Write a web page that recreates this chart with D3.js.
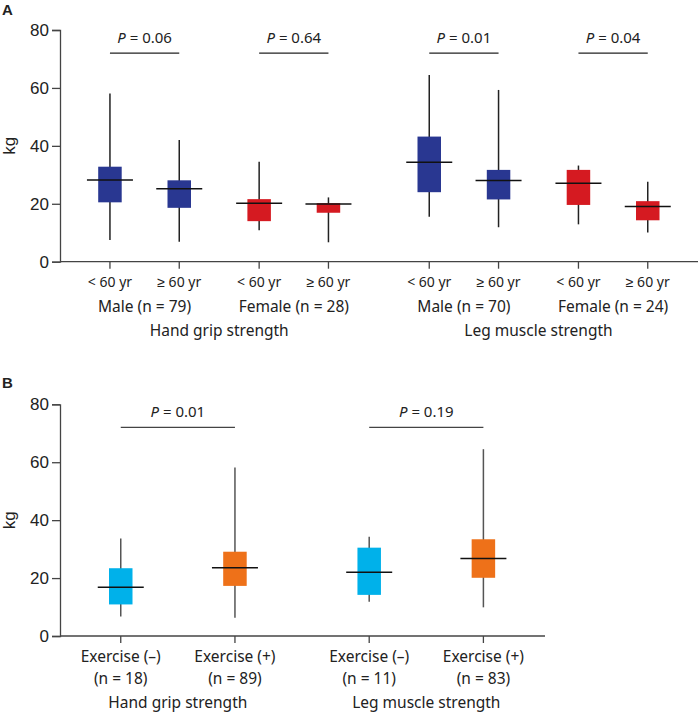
<!DOCTYPE html>
<html><head><meta charset="utf-8">
<script src="https://cdn.jsdelivr.net/npm/d3@7"></script>
<style>
html,body{margin:0;padding:0;background:#fff;}
text{font-family:"Noto Sans",sans-serif;fill:#222;}
</style></head>
<body>
<svg id="chart" width="700" height="713"></svg>
<script>
// ---------- DATA ----------
// Panel A
const measuresA = ["Hand grip strength", "Leg muscle strength"];
const sexesA = ["Male", "Female"];
const agesA = ["< 60 yr", "≥ 60 yr"];
const sexLabelsA = {
  "Hand grip strength": ["Male (n = 79)", "Female (n = 28)"],
  "Leg muscle strength": ["Male (n = 70)", "Female (n = 24)"]
};
// [measure, sex, age, whiskerLow, q1, median, q3, whiskerHigh]
const boxesA = [
  ["Hand grip strength", "Male", "< 60 yr", 7.5, 20.5, 28.2, 32.8, 58.1],
  ["Hand grip strength", "Male", "≥ 60 yr", 6.9, 18.6, 25.2, 28.1, 42.0],
  ["Hand grip strength", "Female", "< 60 yr", 10.9, 14.0, 20.2, 21.6, 34.5],
  ["Hand grip strength", "Female", "≥ 60 yr", 6.7, 16.9, 19.9, 20.2, 22.2],
  ["Leg muscle strength", "Male", "< 60 yr", 15.5, 24.0, 34.3, 43.2, 64.5],
  ["Leg muscle strength", "Male", "≥ 60 yr", 11.9, 21.5, 28.0, 31.7, 59.3],
  ["Leg muscle strength", "Female", "< 60 yr", 12.9, 19.6, 27.1, 31.7, 33.2],
  ["Leg muscle strength", "Female", "≥ 60 yr", 10.1, 14.3, 19.1, 20.9, 27.6]
];
// [measure, sex, p-value text]
const pValuesA = [
  ["Hand grip strength", "Male", "0.06"],
  ["Hand grip strength", "Female", "0.64"],
  ["Leg muscle strength", "Male", "0.01"],
  ["Leg muscle strength", "Female", "0.04"]
];
// Panel B
const measuresB = ["Hand grip strength", "Leg muscle strength"];
const exerciseB = ["Exercise (–)", "Exercise (+)"];
const nLabelsB = {
  "Hand grip strength": ["(n = 18)", "(n = 89)"],
  "Leg muscle strength": ["(n = 11)", "(n = 83)"]
};
const boxesB = [
  ["Hand grip strength", "Exercise (–)", 6.7, 10.9, 16.8, 23.4, 33.7],
  ["Hand grip strength", "Exercise (+)", 6.3, 17.3, 23.6, 29.1, 58.2],
  ["Leg muscle strength", "Exercise (–)", 11.8, 14.2, 22.0, 30.5, 34.3],
  ["Leg muscle strength", "Exercise (+)", 9.9, 20.1, 26.8, 33.4, 64.5]
];
const pValuesB = [
  ["Hand grip strength", "0.01"],
  ["Leg muscle strength", "0.19"]
];
const yTicks = [0, 20, 40, 60, 80];
const bracketLevel = 72;

// ---------- COLORS ----------
const colA = {Male: "#293791", Female: "#d51a21"};
const colB = {"Exercise (–)": "#00b1ea", "Exercise (+)": "#ee7119"};

const svg = d3.select("#chart");
const boxW = 23.5, medW = 46;

function yAxis(g, y, x0) {
  const ax = d3.axisLeft(y).tickValues(yTicks).tickSize(8).tickPadding(3);
  const a = g.append("g").attr("transform", `translate(${x0},0)`).call(ax);
  a.select(".domain").attr("stroke", "#444").attr("stroke-width", 1.3);
  a.selectAll(".tick line").attr("stroke", "#444").attr("stroke-width", 1.3);
  a.selectAll(".tick text").style("font-family", '"Liberation Sans",Arial,sans-serif').style("font-size", "17px").attr("fill", "#222");
}

function drawBox(g, x, y, d, color, whiskerColor) {
  const [lo, q1, med, q3, hi] = d;
  g.append("line").attr("x1", x).attr("x2", x).attr("y1", y(lo)).attr("y2", y(hi))
    .attr("stroke", whiskerColor).attr("stroke-width", 1.5);
  g.append("rect").attr("x", x - boxW / 2).attr("width", boxW)
    .attr("y", y(q3)).attr("height", y(q1) - y(q3)).attr("fill", color);
  g.append("line").attr("x1", x - medW / 2).attr("x2", x + medW / 2)
    .attr("y1", y(med)).attr("y2", y(med)).attr("stroke", "#111").attr("stroke-width", 1.5);
}

function pText(g, x, yb, p) {
  const t = g.append("text").attr("x", x).attr("y", yb).attr("text-anchor", "middle")
    .style("font-size", "15px").attr("fill", "#333");
  t.append("tspan").style("font-style", "italic").text("P");
  t.append("tspan").text(" = " + p);
}

function kgLabel(g, cy) {
  g.append("text").attr("x", 10).attr("y", cy).attr("transform", `rotate(-90,10,${cy})`)
    .attr("text-anchor", "middle").attr("dominant-baseline", "central")
    .style("font-family", '"Liberation Sans",Arial,sans-serif').style("font-size", "17px").text("kg");
}

// ---------- PANEL A ----------
{
  const g = svg.append("g");
  const y = d3.scaleLinear().domain([0, 80]).range([261.7, 30]);
  const outer = d3.scalePoint().domain(measuresA).range([219.2, 538.5]);
  const mid = d3.scalePoint().domain(sexesA).range([-74.6, 74.6]);
  const inner = d3.scalePoint().domain(agesA).range([-34.65, 34.65]);
  const xPos = (m, s, a) => outer(m) + mid(s) + inner(a);

  g.append("line").attr("x1", 60).attr("x2", 698).attr("y1", y(0)).attr("y2", y(0))
    .attr("stroke", "#444").attr("stroke-width", 1.3);
  yAxis(g, y, 60);

  boxesA.forEach(b => {
    const x = xPos(b[0], b[1], b[2]);
    g.append("line").attr("x1", x).attr("x2", x).attr("y1", y(0)).attr("y2", y(0) + 7)
      .attr("stroke", "#444").attr("stroke-width", 1.3);
    drawBox(g, x, y, b.slice(3), colA[b[1]], "#222");
    g.append("text").attr("x", x).attr("y", 287).attr("text-anchor", "middle")
      .style("font-size", "14px").text(b[2]);
  });
  measuresA.forEach(m => {
    sexesA.forEach((s, i) => {
      g.append("text").attr("x", outer(m) + mid(s)).attr("y", 312).attr("text-anchor", "middle")
        .style("font-size", "15.5px").text(sexLabelsA[m][i]);
    });
    g.append("text").attr("x", outer(m)).attr("y", 336).attr("text-anchor", "middle")
      .style("font-size", "15.5px").text(m);
  });
  pValuesA.forEach(p => {
    const xa = xPos(p[0], p[1], agesA[0]), xb = xPos(p[0], p[1], agesA[1]);
    g.append("line").attr("x1", xa).attr("x2", xb).attr("y1", y(bracketLevel)).attr("y2", y(bracketLevel))
      .attr("stroke", "#222").attr("stroke-width", 1.3);
    pText(g, (xa + xb) / 2, y(bracketLevel) - 10, p[2]);
  });
  kgLabel(g, y(40));
  g.append("text").attr("x", 2).attr("y", 15).style("font-family", '"Liberation Sans",Arial,sans-serif')
    .style("font-weight", "bold").style("font-size", "15px").attr("fill", "#111").text("A");
}

// ---------- PANEL B ----------
{
  const g = svg.append("g");
  const y = d3.scaleLinear().domain([0, 80]).range([636, 404.3]);
  const outer = d3.scalePoint().domain(measuresB).range([177.85, 426.3]);
  const inner = d3.scalePoint().domain(exerciseB).range([-57.1, 57.1]);
  const xPos = (m, e) => outer(m) + inner(e);

  g.append("line").attr("x1", 60).attr("x2", 545).attr("y1", y(0)).attr("y2", y(0))
    .attr("stroke", "#444").attr("stroke-width", 1.3);
  yAxis(g, y, 60);

  boxesB.forEach(b => {
    const x = xPos(b[0], b[1]);
    g.append("line").attr("x1", x).attr("x2", x).attr("y1", y(0)).attr("y2", y(0) + 7)
      .attr("stroke", "#444").attr("stroke-width", 1.3);
    drawBox(g, x, y, b.slice(2), colB[b[1]], "#555");
    g.append("text").attr("x", x).attr("y", 662).attr("text-anchor", "middle")
      .style("font-size", "15.5px").text(b[1]);
    g.append("text").attr("x", x).attr("y", 684).attr("text-anchor", "middle")
      .style("font-size", "15.5px").text(nLabelsB[b[0]][exerciseB.indexOf(b[1])]);
  });
  measuresB.forEach(m => {
    g.append("text").attr("x", outer(m)).attr("y", 708).attr("text-anchor", "middle")
      .style("font-size", "15.5px").text(m);
  });
  pValuesB.forEach(p => {
    const xa = xPos(p[0], exerciseB[0]), xb = xPos(p[0], exerciseB[1]);
    g.append("line").attr("x1", xa).attr("x2", xb).attr("y1", y(bracketLevel)).attr("y2", y(bracketLevel))
      .attr("stroke", "#444").attr("stroke-width", 1.3);
    pText(g, (xa + xb) / 2, y(bracketLevel) - 10, p[1]);
  });
  kgLabel(g, y(40));
  g.append("text").attr("x", 2).attr("y", 388).style("font-family", '"Liberation Sans",Arial,sans-serif')
    .style("font-weight", "bold").style("font-size", "15px").attr("fill", "#111").text("B");
}
</script>
</body></html>
